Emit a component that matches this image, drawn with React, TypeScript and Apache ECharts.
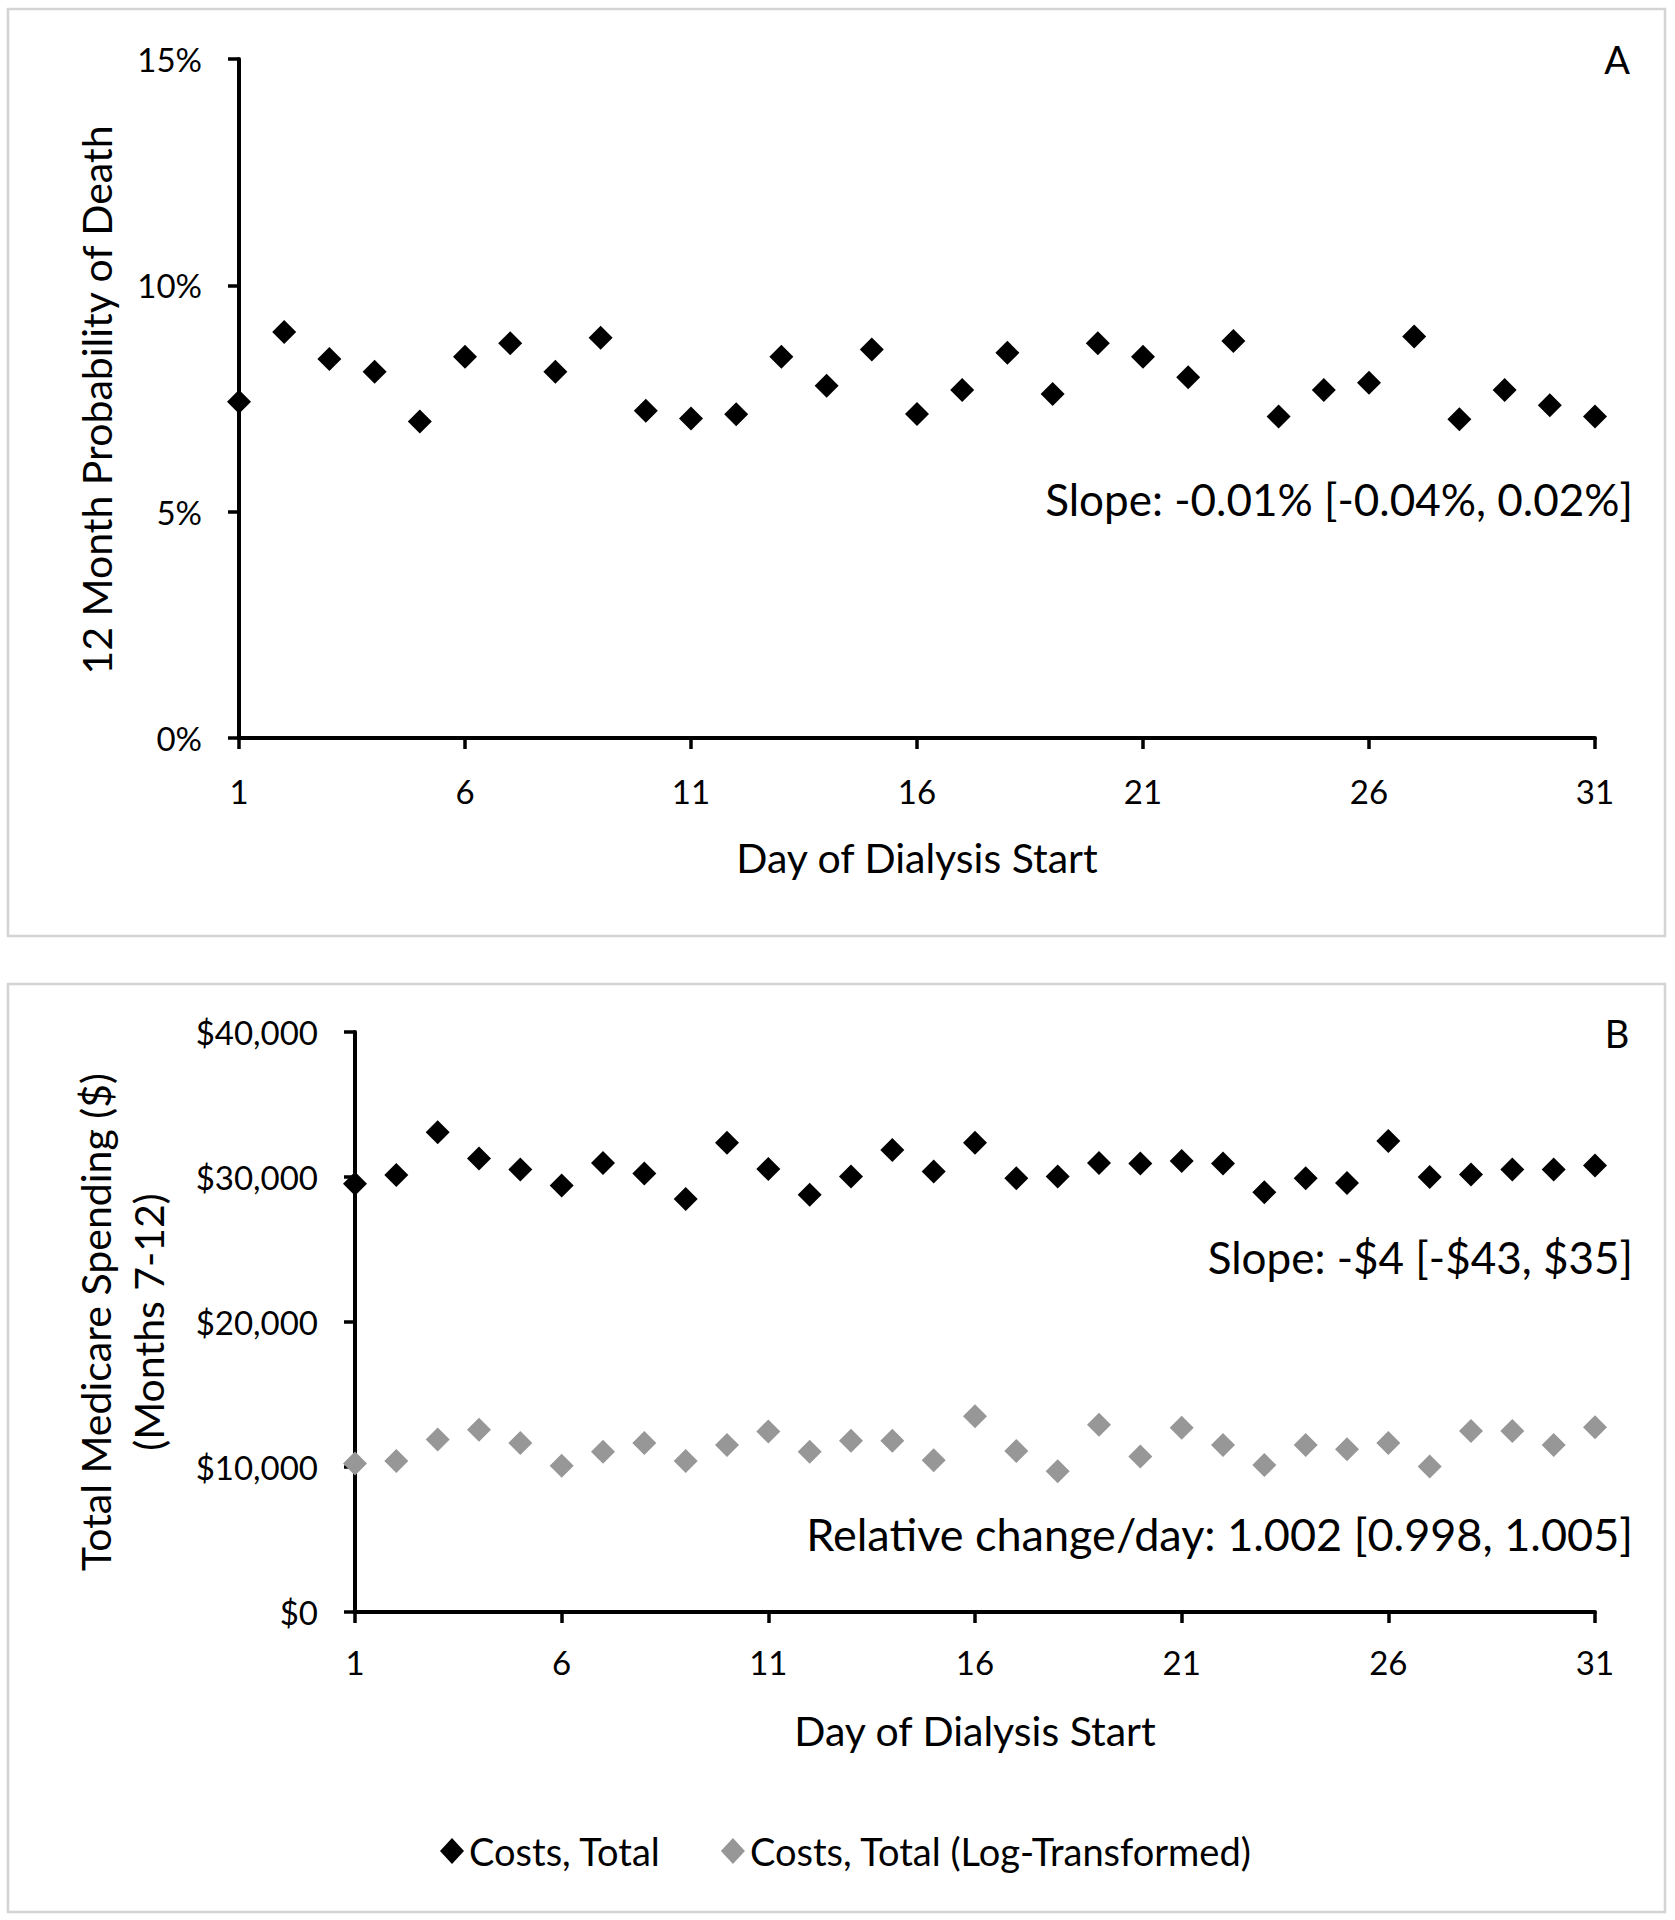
import React, { useEffect, useRef } from "react";
import * as echarts from "echarts";

// ---- Data ----
const days = [1, 2, 3, 4, 5, 6, 7, 8, 9, 10, 11, 12, 13, 14, 15, 16, 17, 18, 19, 20, 21, 22, 23, 24, 25, 26, 27, 28, 29, 30, 31];

// Panel A: 12 month probability of death (%)
const deathProb = [7.43, 8.97, 8.37, 8.09, 6.99, 8.42, 8.72, 8.09, 8.84, 7.23, 7.06, 7.15, 8.42, 7.78, 8.58, 7.16, 7.69, 8.51, 7.6, 8.72, 8.42, 7.97, 8.77, 7.1, 7.69, 7.85, 8.87, 7.04, 7.69, 7.35, 7.1];

// Panel B: total Medicare spending ($), months 7-12
const costsTotal = [29540, 30130, 33080, 31270, 30510, 29410, 30970, 30250, 28480, 32360, 30550, 28780, 30040, 31860, 30380, 32360, 29920, 30040, 30970, 30930, 31100, 30930, 28950, 29920, 29580, 32490, 30000, 30170, 30510, 30510, 30800];
const costsLog = [10250, 10420, 11900, 12570, 11650, 10080, 11050, 11650, 10420, 11520, 12450, 11050, 11810, 11810, 10460, 13500, 11100, 9700, 12910, 10720, 12700, 11520, 10130, 11520, 11220, 11650, 10040, 12490, 12490, 11520, 12740];

const seriesNames = ["Costs, Total", "Costs, Total (Log-Transformed)"];
const xTitle = "Day of Dialysis Start";
const yTitleA = "12 Month Probability of Death";
const yTitleB = "Total Medicare Spending ($)\n(Months 7-12)";
const noteA = "Slope: -0.01% [-0.04%, 0.02%]";
const noteB1 = "Slope: -$4 [-$43, $35]";
const noteB2 = "Relative change/day: 1.002 [0.998, 1.005]";

const FONT = "Lato";
const BLACK = "#000000";
const GREY = "#979797";

export default function App() {
  const ref = useRef<HTMLDivElement>(null);

  useEffect(() => {
    if (!ref.current) return;
    const chart = echarts.init(ref.current, null, { renderer: "svg" });

    const axisLine = { show: true, lineStyle: { color: BLACK, width: 4 } };
    const axisTick = { show: true, inside: false, length: 11, lineStyle: { color: BLACK, width: 3.5 } };
    const labelStyle = { color: BLACK, fontFamily: FONT, fontSize: 33, margin: 37 };

    const xAxisBase = {
      type: "value",
      min: 1,
      max: 31,
      interval: 5,
      axisLine,
      axisTick,
      splitLine: { show: false },
    };

    const option = {
      animation: false,
      backgroundColor: "#ffffff",
      textStyle: { fontFamily: FONT },
      grid: [
        { left: 239, right: 80, top: 59, height: 679 },
        { left: 355, right: 80, top: 1032, height: 580 },
      ],
      xAxis: [
        { ...xAxisBase, gridIndex: 0, axisLabel: { ...labelStyle, margin: 36 } },
        { ...xAxisBase, gridIndex: 1, axisLabel: { ...labelStyle, margin: 33 } },
      ],
      yAxis: [
        {
          type: "value",
          gridIndex: 0,
          min: 0,
          max: 15,
          interval: 5,
          axisLine,
          axisTick,
          splitLine: { show: false },
          axisLabel: { ...labelStyle, formatter: (v: number) => `${v}%` },
        },
        {
          type: "value",
          gridIndex: 1,
          min: 0,
          max: 40000,
          interval: 10000,
          axisLine,
          axisTick,
          splitLine: { show: false },
          axisLabel: {
            ...labelStyle,
            formatter: (v: number) => "$" + v.toLocaleString("en-US"),
          },
        },
      ],
      legend: {
        data: seriesNames,
        left: 435,
        top: 1827,
        icon: "diamond",
        itemWidth: 24,
        itemHeight: 26,
        itemGap: 60,
        textStyle: { color: BLACK, fontFamily: FONT, fontSize: 38 },
      },
      series: [
        {
          name: "12 Month Probability of Death",
          type: "scatter",
          xAxisIndex: 0,
          yAxisIndex: 0,
          symbol: "diamond",
          symbolSize: [24, 24],
          itemStyle: { color: BLACK, opacity: 1 },
          data: days.map((d, i) => [d, deathProb[i]]),
        },
        {
          name: seriesNames[0],
          type: "scatter",
          xAxisIndex: 1,
          yAxisIndex: 1,
          symbol: "diamond",
          symbolSize: [24, 24],
          itemStyle: { color: BLACK, opacity: 1 },
          data: days.map((d, i) => [d, costsTotal[i]]),
        },
        {
          name: seriesNames[1],
          type: "scatter",
          xAxisIndex: 1,
          yAxisIndex: 1,
          symbol: "diamond",
          symbolSize: [24, 24],
          itemStyle: { color: GREY, opacity: 1 },
          data: days.map((d, i) => [d, costsLog[i]]),
        },
      ],
      graphic: [
        {
          type: "rect",
          shape: { x: 8, y: 9, width: 1657, height: 927 },
          style: { fill: "none", stroke: "#d4d4d4", lineWidth: 2.5 },
          silent: true,
        },
        {
          type: "rect",
          shape: { x: 8, y: 984, width: 1657, height: 928 },
          style: { fill: "none", stroke: "#d4d4d4", lineWidth: 2.5 },
          silent: true,
        },
        {
          type: "text",
          x: 1617,
          y: 59,
          style: { text: "A", fontFamily: FONT, fontSize: 38, fill: BLACK, align: "center", verticalAlign: "middle" },
        },
        {
          type: "text",
          x: 1617,
          y: 1033,
          style: { text: "B", fontFamily: FONT, fontSize: 38, fill: BLACK, align: "center", verticalAlign: "middle" },
        },
        {
          type: "text",
          x: 1633,
          y: 499,
          style: { text: noteA, fontFamily: FONT, fontSize: 44, fill: BLACK, align: "right", verticalAlign: "middle" },
        },
        {
          type: "text",
          x: 1633,
          y: 1257,
          style: { text: noteB1, fontFamily: FONT, fontSize: 44, fill: BLACK, align: "right", verticalAlign: "middle" },
        },
        {
          type: "text",
          x: 1633,
          y: 1534,
          style: { text: noteB2, fontFamily: FONT, fontSize: 45, fill: BLACK, align: "right", verticalAlign: "middle" },
        },
        {
          type: "text",
          x: 917,
          y: 857,
          style: { text: xTitle, fontFamily: FONT, fontSize: 41, fill: BLACK, align: "center", verticalAlign: "middle" },
        },
        {
          type: "text",
          x: 975,
          y: 1730,
          style: { text: xTitle, fontFamily: FONT, fontSize: 41, fill: BLACK, align: "center", verticalAlign: "middle" },
        },
        {
          type: "text",
          x: 96,
          y: 400,
          rotation: Math.PI / 2,
          style: { text: yTitleA, fontFamily: FONT, fontSize: 41, fill: BLACK, align: "center", verticalAlign: "middle" },
        },
        {
          type: "text",
          x: 122,
          y: 1322,
          rotation: Math.PI / 2,
          style: {
            text: yTitleB,
            fontFamily: FONT,
            fontSize: 41,
            lineHeight: 53,
            fill: BLACK,
            align: "center",
            verticalAlign: "middle",
          },
        },
      ],
    };

    chart.setOption(option as any);
    return () => chart.dispose();
  }, []);

  return (
    <div
      ref={ref}
      style={{ position: "absolute", left: 0, top: 0, width: 1675, height: 1920, background: "#fff" }}
    />
  );
}
